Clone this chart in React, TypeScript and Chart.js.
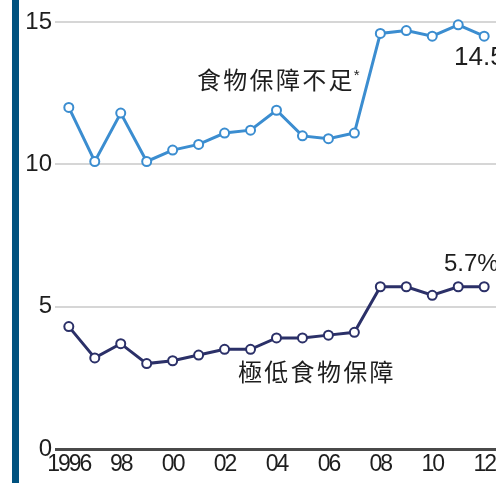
import React, { useEffect, useRef } from "react";
import { Chart, registerables } from "chart.js";

Chart.register(...registerables);

const years = [1996, 1997, 1998, 1999, 2000, 2001, 2002, 2003, 2004, 2005, 2006, 2007, 2008, 2009, 2010, 2011, 2012];
const foodInsecure = [12.0, 10.1, 11.8, 10.1, 10.5, 10.7, 11.1, 11.2, 11.9, 11.0, 10.9, 11.1, 14.6, 14.7, 14.5, 14.9, 14.5];
const veryLowSecurity = [4.3, 3.2, 3.7, 3.0, 3.1, 3.3, 3.5, 3.5, 3.9, 3.9, 4.0, 4.1, 5.7, 5.7, 5.4, 5.7, 5.7];
const xTickValues = [1996, 1998, 2000, 2002, 2004, 2006, 2008, 2010, 2012];
const xTickLabels = ["1996", "98", "00", "02", "04", "06", "08", "10", "12"];
const upperName = "食物保障不足";
const lowerName = "極低食物保障";
const upperEndLabel = "14.5%";
const lowerEndLabel = "5.7%";

const UPPER = "#3b8dd0";
const LOWER = "#2b3068";
const TEXT = "#1e1e1e";

function drawSpaced(ctx: CanvasRenderingContext2D, text: string, x: number, y: number, advance: number) {
  let cx = x;
  for (const ch of Array.from(text)) {
    ctx.fillText(ch, cx, y);
    cx += advance;
  }
  return cx;
}

const condensedXLabels = {
  id: "condensedXLabels",
  beforeDraw(chart: any) {
    const xs: any = chart.scales.x;
    if (xs && !xs.__patched) {
      const orig = xs.drawLabels;
      xs.drawLabels = function (area: any) {
        const c: any = this.ctx;
        c.save();
        c.letterSpacing = "-2px";
        orig.call(this, area);
        c.restore();
      };
      xs.__patched = true;
    }
  },
};

const annotationPlugin = {
  id: "annotations",
  afterDatasetsDraw(chart: any) {
    const ctx: CanvasRenderingContext2D = chart.ctx;
    ctx.save();
    ctx.fillStyle = TEXT;
    ctx.textBaseline = "middle";
    ctx.textAlign = "left";
    const cjk = "'Noto Sans CJK TC', 'Noto Sans CJK SC', sans-serif";
    ctx.font = `24px ${cjk}`;
    const endX = drawSpaced(ctx, upperName, 197, 80, 26.3);
    ctx.font = `15px 'Liberation Sans', Arial, sans-serif`;
    ctx.fillText("*", endX - 1, 76);
    ctx.font = `24px ${cjk}`;
    drawSpaced(ctx, lowerName, 238, 372, 26.3);
    ctx.font = `26px 'Liberation Sans', Arial, sans-serif`;
    ctx.fillText(upperEndLabel, 454, 58);
    ctx.font = `24px 'Liberation Sans', Arial, sans-serif`;
    ctx.fillText(lowerEndLabel, 444, 264);
    ctx.restore();
  },
};

export default function App() {
  const ref = useRef<HTMLCanvasElement>(null);
  useEffect(() => {
    if (!ref.current) return;
    const pointStyle = (color: string) => ({
      borderColor: color,
      pointBorderColor: color,
      pointBackgroundColor: "#ffffff",
      pointRadius: 4.5,
      pointBorderWidth: 2,
      borderWidth: 3,
      tension: 0,
      clip: false as any,
    });
    const chart = new Chart(ref.current, {
      type: "line",
      data: {
        datasets: [
          {
            label: upperName,
            data: years.map((y, i) => ({ x: y, y: foodInsecure[i] })),
            ...pointStyle(UPPER),
          },
          {
            label: lowerName,
            data: years.map((y, i) => ({ x: y, y: veryLowSecurity[i] })),
            ...pointStyle(LOWER),
          },
        ],
      },
      options: {
        animation: false,
        responsive: false,
        maintainAspectRatio: false,
        layout: { padding: { top: 22, left: 0, right: 0, bottom: 0 } },
        plugins: { legend: { display: false }, tooltip: { enabled: false } },
        scales: {
          x: {
            type: "linear",
            min: 1995.468,
            max: 2014.67,
            afterBuildTicks: (s: any) => {
              s.ticks = xTickValues.map((v) => ({ value: v }));
            },
            afterFit: (s: any) => {
              s.height = 34;
            },
            grid: { display: false, drawTicks: false },
            border: { display: false },
            ticks: {
              autoSkip: false,
              maxRotation: 0,
              padding: 2,
              color: TEXT,
              font: { family: "'Liberation Sans', Arial, sans-serif", size: 23 },
              callback: (_v: any, i: number) => xTickLabels[i],
            },
          },
          y: {
            min: 0,
            max: 15,
            afterFit: (s: any) => {
              s.width = 55;
            },
            border: { display: false },
            grid: {
              drawTicks: false,
              color: (c: any) => (c.tick && c.tick.value === 0 ? "#4a4a4a" : "#d6d6d6"),
              lineWidth: (c: any) => (c.tick && c.tick.value === 0 ? 3 : 2),
            },
            ticks: {
              stepSize: 5,
              padding: 3,
              color: TEXT,
              font: { family: "'Liberation Sans', Arial, sans-serif", size: 24 },
            },
          },
        },
      },
      plugins: [condensedXLabels, annotationPlugin],
    } as any);
    return () => chart.destroy();
  }, []);
  return (
    <div style={{ position: "fixed", left: 0, top: 0, width: 496, height: 483, overflow: "hidden", background: "#ffffff" }}>
      <canvas ref={ref} width={560} height={483} style={{ position: "absolute", left: 0, top: 0 }} />
      <div style={{ position: "absolute", left: 12, top: 0, width: 7, height: 483, background: "#00527f" }} />
    </div>
  );
}
